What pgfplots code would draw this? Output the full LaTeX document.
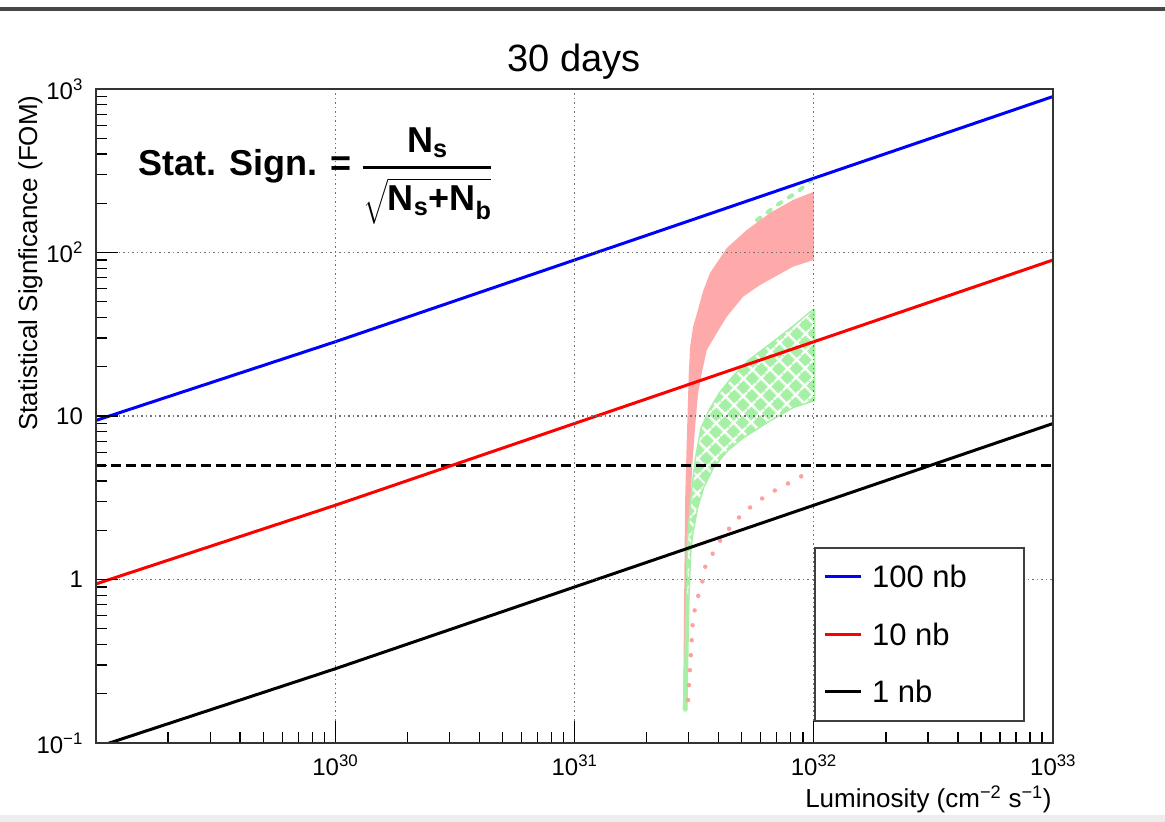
\documentclass[border=0pt]{standalone}
\usepackage{amsmath}
\usepackage{fontspec}
\setmainfont{Liberation Sans}
\usepackage{pgfplots}
\pgfplotsset{compat=1.18}
\usetikzlibrary{patterns.meta}
\definecolor{bandred}{RGB}{255,170,170}
\definecolor{dotred}{RGB}{255,160,160}
\definecolor{bandgreen}{RGB}{165,240,165}
\definecolor{rootblue}{RGB}{0,0,255}
\definecolor{rootred}{RGB}{255,0,0}
\begin{document}
\begin{tikzpicture}[x=1pt,y=1pt]
\useasboundingbox (0,0) rectangle (1165,822);
\fill[black!7] (0,0) rectangle (1165,7);
\fill[black!72] (0,811) rectangle (1165,815);
\begin{axis}[
  at={(96pt,79pt)}, anchor=south west,
  scale only axis, width=957pt, height=654pt,
  xmode=log, ymode=log,
  xmin=1e29, xmax=1e33, ymin=0.1, ymax=1000,
  xtick={1e30,1e31,1e32,1e33},
  xticklabels={10\textsuperscript{30},10\textsuperscript{31},10\textsuperscript{32},10\textsuperscript{33}},
  ytick={0.1,1,10,100,1000},
  yticklabels={10\textsuperscript{\char"2212 1},1,10,10\textsuperscript{2},10\textsuperscript{3}},
  minor xtick={2e29,3e29,4e29,5e29,6e29,7e29,8e29,9e29,2e30,3e30,4e30,5e30,6e30,7e30,8e30,9e30,2e31,3e31,4e31,5e31,6e31,7e31,8e31,9e31,2e32,3e32,4e32,5e32,6e32,7e32,8e32,9e32},
  minor ytick={0.2,0.3,0.4,0.5,0.6,0.7,0.8,0.9,2,3,4,5,6,7,8,9,20,30,40,50,60,70,80,90,200,300,400,500,600,700,800,900},
  xtick pos=left, ytick pos=left,
  tick align=inside,
  major tick length=22pt, minor tick length=11pt,
  tick style={black, line width=1.3pt},
  axis line style={black!80, line width=2pt},
  grid=major,
  major grid style={black!55, line width=1.3pt, dash pattern=on 1.5pt off 3pt},
  axis on top,
  tick label style={font=\fontsize{24}{28}\selectfont},
  xticklabel style={anchor=north, inner sep=0pt, yshift=-12pt},
  yticklabel style={anchor=east, inner sep=0pt, xshift=-13pt},
  legend style={at={(0.7503,0.2997)}, anchor=north west, draw=black!75, line width=2pt, fill=white,
    inner xsep=8pt, inner ysep=18pt, row sep=35.5pt, font=\fontsize{31}{37}\selectfont,
    nodes={inner sep=0pt, text height=22pt, text depth=0pt}, cells={anchor=west}},
  legend image code/.code={\draw[#1] (0pt,0pt) -- (36pt,0pt);},
]
% green dotted upper curve
\addplot[forget plot, bandgreen, line width=4pt, line cap=round, dash pattern=on 4pt off 9pt] coordinates {
(5.79e31,158) (7.23e31,201) (8.51e31,234) (9.46e31,266) (1.0e32,286)};
% red band
\addplot[forget plot, fill=bandred, draw=none] coordinates {
(2.842e31,0.159) (2.870e31,0.750) (2.897e31,3.06) (2.944e31,7.13) (3.000e31,18.0) (3.040e31,26.5)
(3.129e31,35.2) (3.270e31,44.0) (3.444e31,58.0) (3.684e31,75.0) (4.328e31,106.6)
(5.245e31,137.3) (6.564e31,174.6) (8.190e31,209.6) (1.0e32,235.5)
(1.0e32,90.0) (8.190e31,81.9) (5.962e31,63.3) (5.062e31,53.7) (4.328e31,40.5)
(3.930e31,32.2) (3.569e31,25.3) (3.401e31,18.3) (3.283e31,13.8) (3.190e31,8.60)
(3.099e31,4.88) (3.010e31,1.58) (2.953e31,0.159) (2.842e31,0.159)};
% green band fill
\addplot[forget plot, fill=bandgreen, draw=bandgreen, line width=3pt, line join=round] coordinates {
(2.870e31,0.159) (2.924e31,0.371) (2.953e31,0.750) (2.980e31,1.67) (3.040e31,2.41)
(3.129e31,3.89) (3.230e31,5.60) (3.400e31,8.40) (3.684e31,10.9) (4.06e31,13.8)
(4.60e31,17.3) (5.41e31,22.0) (6.564e31,27.2) (8.19e31,35.0) (1.0e32,44.5)
(1.0e32,12.5) (8.19e31,11.4) (6.564e31,9.46) (5.06e31,7.44) (4.34e31,6.19)
(3.79e31,4.88) (3.444e31,3.68) (3.25e31,2.78) (3.099e31,1.92) (3.04e31,1.51)
(2.98e31,0.750) (2.953e31,0.371) (2.924e31,0.159) (2.870e31,0.159)};
% green band hatch (inner part)
\addplot[forget plot, draw=none, pattern={Hatch[angle=45,distance=13pt,line width=2.5pt]}, pattern color=white] coordinates {
(2.953e31,0.750) (2.980e31,1.67) (3.040e31,2.41)
(3.129e31,3.89) (3.230e31,5.60) (3.400e31,8.40) (3.684e31,10.9) (4.06e31,13.8)
(4.60e31,17.3) (5.41e31,22.0) (6.564e31,27.2) (8.19e31,35.0) (1.0e32,44.5)
(1.0e32,12.5) (8.19e31,11.4) (6.564e31,9.46) (5.06e31,7.44) (4.34e31,6.19)
(3.79e31,4.88) (3.444e31,3.68) (3.25e31,2.78) (3.099e31,1.92) (3.04e31,1.51)
(2.98e31,0.750) (2.953e31,0.750)};
% pink dotted curve
\addplot[forget plot, dotred, line width=4.5pt, line cap=round, dash pattern=on 0pt off 15pt] coordinates {
(2.98e31,0.183) (3.04e31,0.292) (3.099e31,0.471) (3.129e31,0.590) (3.25e31,0.750)
(3.41e31,0.952) (3.51e31,1.19) (3.79e31,1.45) (4.14e31,1.82) (4.55e31,2.15)
(5.06e31,2.55) (5.79e31,2.98) (6.56e31,3.38) (7.58e31,3.78) (8.76e31,4.24) (1.0e32,4.68)};
% 5 sigma dashed line
\addplot[forget plot, black, line width=3pt, dash pattern=on 10pt off 5pt] coordinates {(1e29,5) (1e33,5)};
% lines
\addplot[rootblue, line width=3pt] coordinates {(1e29,9.4) (1e30,28.46) (1e31,90) (1e32,284.6) (1e33,900)};
\addlegendentry{\makebox[154pt][l]{\hspace{10pt}100 nb}}
\addplot[rootred, line width=3pt] coordinates {(1e29,0.94) (1e30,2.846) (1e31,9) (1e32,28.46) (1e33,90)};
\addlegendentry{\makebox[154pt][l]{\hspace{10pt}10 nb}}
\addplot[black, line width=3pt] coordinates {(1e29,0.094) (1e30,0.2846) (1e31,0.9) (1e32,2.846) (1e33,9)};
\addlegendentry{\makebox[154pt][l]{\hspace{10pt}1 nb}}
\end{axis}
\node[anchor=base, font=\fontsize{38}{44}\selectfont] at (574,750) {30 days};
\node[anchor=base east, font=\fontsize{26}{30}\selectfont] at (1055,14) {Luminosity (cm\textsuperscript{\char"2212 2} s\textsuperscript{\char"2212 1})};
\node[anchor=base east, rotate=90, font=\fontsize{26}{30}\selectfont] at (37,730) {Statistical Signficance (FOM)};
\node[anchor=base west, inner sep=0pt, font=\fontsize{36}{40}\selectfont\bfseries] at (138,646)
  {Stat. Sign. = \raisebox{2pt}{$\displaystyle{\hbox{N\textsubscript{s}}\above 3pt \sqrt{\hbox{N\textsubscript{s}+N\textsubscript{b}}}}$}};
\end{tikzpicture}
\end{document}
